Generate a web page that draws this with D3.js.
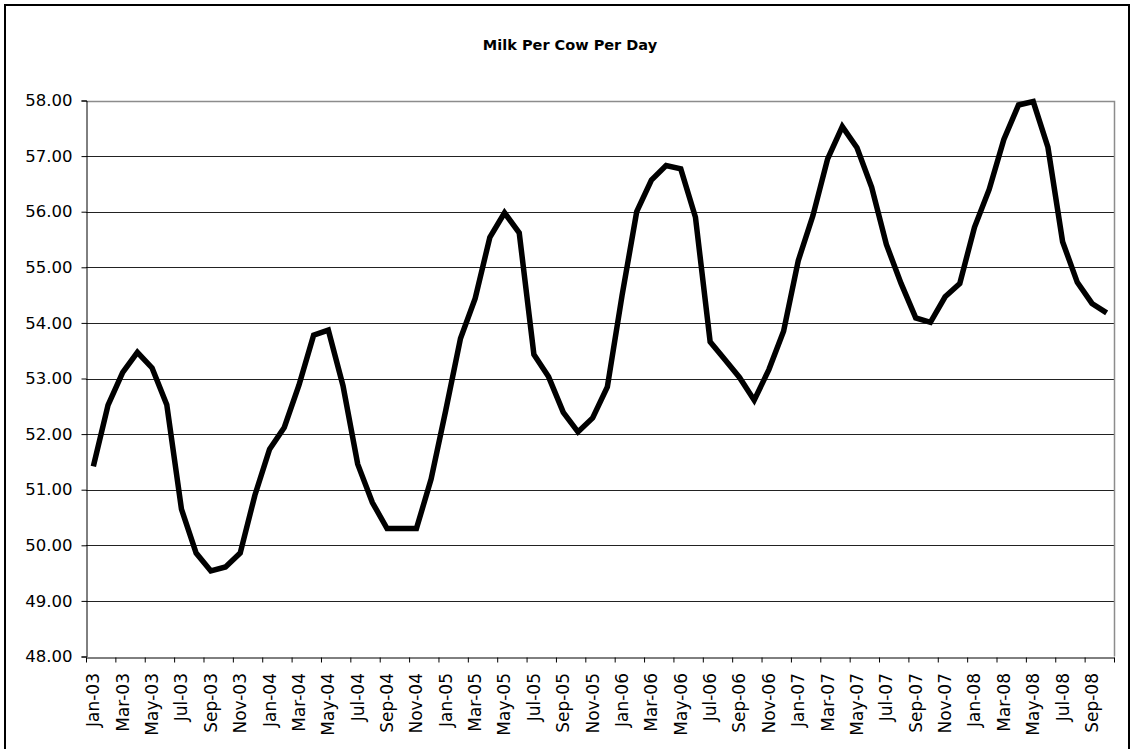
<!DOCTYPE html>
<html>
<head>
<meta charset="utf-8">
<script src="https://cdn.jsdelivr.net/npm/d3@7"></script>
<style>
  html, body { margin: 0; padding: 0; background: #fff; }
  svg { display: block; font-family: "DejaVu Sans", Verdana, sans-serif; }
</style>
</head>
<body>
<svg id="chart" width="1132" height="749"></svg>
<script>
// Month names and years used to build the category labels (Jan-03 ... Oct-08)
const monthNames = ["Jan","Feb","Mar","Apr","May","Jun","Jul","Aug","Sep","Oct","Nov","Dec"];
const years = ["03","04","05","06","07","08"];
const lastYearMonths = 10;

// Milk per cow per day, monthly
const values2003 = [51.42, 52.52, 53.11, 53.47, 53.19, 52.53, 50.65, 49.86, 49.54, 49.61, 49.86, 50.90];
const values2004 = [51.73, 52.12, 52.88, 53.78, 53.87, 52.87, 51.46, 50.77, 50.30, 50.30, 50.30, 51.19];
const values2005 = [52.43, 53.72, 54.44, 55.54, 55.98, 55.62, 53.43, 53.03, 52.39, 52.04, 52.29, 52.85];
const values2006 = [54.49, 56.00, 56.57, 56.83, 56.77, 55.90, 53.66, 53.34, 53.02, 52.61, 53.16, 53.85];
const values2007 = [55.12, 55.93, 56.95, 57.53, 57.15, 56.44, 55.41, 54.71, 54.09, 54.01, 54.47, 54.71];
const values2008 = [55.72, 56.40, 57.30, 57.92, 57.98, 57.16, 55.46, 54.73, 54.35, 54.18];

const yTicks = [48, 49, 50, 51, 52, 53, 54, 55, 56, 57, 58];
const title = "Milk Per Cow Per Day";

const categories = [];
years.forEach((y, yi) => {
  const n = yi === years.length - 1 ? lastYearMonths : 12;
  for (let m = 0; m < n; m++) categories.push(monthNames[m] + "-" + y);
});
const values = [].concat(values2003, values2004, values2005, values2006, values2007, values2008);
const data = categories.map((c, i) => ({ cat: c, value: values[i] }));

const svg = d3.select("#chart");
const plot = { left: 86, right: 1114, top: 100.5, bottom: 656.5 };

// Outer chart border
svg.append("rect")
  .attr("x", 5).attr("y", 5)
  .attr("width", 1124).attr("height", 760)
  .attr("fill", "#fff")
  .attr("stroke", "#000").attr("stroke-width", 2);

// Title
svg.append("text")
  .attr("x", 570).attr("y", 50)
  .attr("text-anchor", "middle")
  .attr("font-size", 14.5).attr("font-weight", "bold")
  .attr("fill", "#000")
  .text(title);

const x = d3.scaleBand().domain(categories).range([plot.left, plot.right]).padding(0);
const xEdge = d3.scaleLinear().domain([0, categories.length]).range([plot.left, plot.right]);
const y = d3.scaleLinear().domain([48, 58]).range([plot.bottom, plot.top]);

// Horizontal gridlines
svg.append("g")
  .selectAll("line")
  .data(yTicks.filter(t => t > 48 && t < 58))
  .join("line")
  .attr("x1", plot.left).attr("x2", plot.right)
  .attr("y1", d => Math.round(y(d)) + 0.5).attr("y2", d => Math.round(y(d)) + 0.5)
  .attr("stroke", "#222").attr("stroke-width", 1);

// Plot area border (top and right)
svg.append("path")
  .attr("d", `M${plot.left},${Math.round(plot.top) + 0.5}H${plot.right + 0.5}V${plot.bottom}`)
  .attr("fill", "none").attr("stroke", "#8c8c8c").attr("stroke-width", 1.5);

// Y axis
const yAxis = svg.append("g")
  .attr("transform", `translate(${plot.left + 0.5},0)`)
  .call(d3.axisLeft(y).tickValues(yTicks).tickSize(5).tickPadding(9).tickFormat(d3.format(".2f")));
yAxis.selectAll("text").attr("font-size", 16.5).attr("fill", "#000").attr("font-family", "DejaVu Sans, Verdana, sans-serif");
yAxis.selectAll("line, path").attr("stroke", "#000");

// X axis: tick marks between every second category
const xTickAxis = svg.append("g")
  .attr("transform", `translate(0,${Math.round(plot.bottom) + 0.5})`)
  .call(d3.axisBottom(xEdge)
    .tickValues(d3.range(0, categories.length + 1, 2))
    .tickSize(5).tickSizeOuter(0).tickFormat(""));
xTickAxis.selectAll("line, path").attr("stroke", "#000");

// X axis labels, rotated, every second category
const xLabelAxis = svg.append("g")
  .attr("transform", `translate(0,${plot.bottom + 0.5})`)
  .call(d3.axisBottom(x)
    .tickValues(categories.filter((c, i) => i % 2 === 0))
    .tickSize(0).tickSizeOuter(0));
xLabelAxis.select("path").remove();
xLabelAxis.selectAll("text")
  .attr("font-size", 17).attr("fill", "#000")
  .attr("font-family", "DejaVu Sans, Verdana, sans-serif")
  .attr("text-anchor", "end")
  .attr("transform", "rotate(-90)")
  .attr("x", -16).attr("y", 0).attr("dy", "0.35em");

// Series line
const line = d3.line()
  .x(d => x(d.cat) + x.bandwidth() / 2)
  .y(d => y(d.value));

svg.append("path")
  .datum(data)
  .attr("d", line)
  .attr("fill", "none")
  .attr("stroke", "#000")
  .attr("stroke-width", 5.5)
  .attr("stroke-linejoin", "miter");
</script>
</body>
</html>
